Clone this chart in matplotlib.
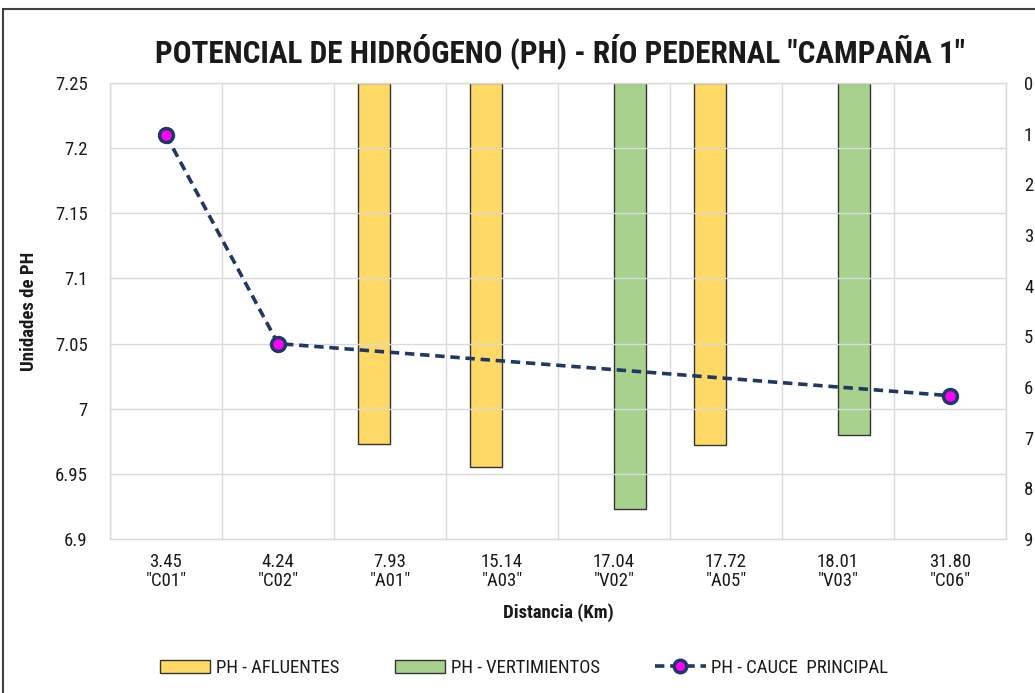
import numpy as np
import matplotlib
matplotlib.use("Agg")
import matplotlib.pyplot as plt
from matplotlib import font_manager
from matplotlib.patches import Rectangle, Patch
from matplotlib.lines import Line2D

# ---- data ----
distances = ["3.45", "4.24", "7.93", "15.14", "17.04", "17.72", "18.01", "31.80"]
stations = ["C01", "C02", "A01", "A03", "V02", "A05", "V03", "C06"]
ph_cauce = [7.21, 7.05, np.nan, np.nan, np.nan, np.nan, np.nan, 7.01]
ph_afluentes = [np.nan, np.nan, 7.12, 7.58, np.nan, 7.15, np.nan, np.nan]
ph_vertimientos = [np.nan, np.nan, np.nan, np.nan, 8.41, np.nan, 6.95, np.nan]
left_ticks = [6.9, 6.95, 7, 7.05, 7.1, 7.15, 7.2, 7.25]
left_ticklabels = ["6.9", "6.95", "7", "7.05", "7.1", "7.15", "7.2", "7.25"]
right_ticks = list(range(0, 10))

# ---- fonts ----
avail = {f.name for f in font_manager.fontManager.ttflist}
fam = None
for cand in ["Liberation Sans Narrow", "Arial Narrow", "Roboto Condensed", "Liberation Sans"]:
    if cand in avail:
        fam = cand
        break
plt.rcParams['font.family'] = [fam, 'DejaVu Sans'] if fam else ['DejaVu Sans']

txt = '#1a1a1a'
grid_c = '#d9d9d9'
fs = 13.5

fig = plt.figure(figsize=(10.35, 6.93), dpi=100)
ax = fig.add_axes([110/1035, 1-539/693, (1006-110)/1035, (539-83)/693])
ax2 = ax.twinx()
ax.set_zorder(ax2.get_zorder() + 1)
ax.patch.set_visible(False)

x = np.arange(len(stations))
bw = 1/3.5

# bars on secondary (inverted) axis
ax2.bar(x - bw/2, ph_afluentes, width=bw, color='#ffd966', edgecolor='#333333', linewidth=1.0)
ax2.bar(x + bw/2, ph_vertimientos, width=bw, color='#a9d18e', edgecolor='#333333', linewidth=1.0)
ax2.set_ylim(9, 0)
ax2.set_yticks(right_ticks)
ax2.set_yticklabels([str(t) for t in right_ticks], fontsize=fs, color=txt)
ax2.tick_params(axis='y', length=0, pad=13)
for s in ax2.spines.values():
    s.set_visible(False)

# line on primary axis
cauce = np.array(ph_cauce)
m = ~np.isnan(cauce)
ax.plot(x[m], cauce[m], linestyle=(0, (2.6, 1.6)), color='#1f3864', linewidth=2.6,
        marker='o', markersize=10, markerfacecolor='#ff00ff', markeredgecolor='#1f3864',
        markeredgewidth=2.5, zorder=5)

ax.set_xlim(-0.5, len(stations) - 0.5)
ax.set_ylim(6.9, 7.25)
ax.set_yticks(left_ticks)
ax.set_yticklabels(left_ticklabels, fontsize=fs, color=txt)
ax.set_xticks(x)
ax.set_xticklabels([f'{d}\n"{s}"' for d, s in zip(distances, stations)], fontsize=fs,
                   color=txt, linespacing=1.1)
ax.set_xticks(np.arange(-0.5, len(stations)), minor=True)
ax.tick_params(axis='x', which='major', length=0, pad=10)
ax.tick_params(axis='x', which='minor', length=0)
ax.tick_params(axis='y', length=0, pad=16)
ax.grid(axis='y', which='major', color=grid_c, linewidth=1)
ax.grid(axis='x', which='minor', color=grid_c, linewidth=1)
ax.set_axisbelow(True)
for s in ax.spines.values():
    s.set_color(grid_c)
    s.set_linewidth(1)

ax.set_ylabel('Unidades de PH', fontsize=13.5, fontweight='bold', color=txt, labelpad=12)
ax.set_xlabel('Distancia (Km)', fontsize=13.5, fontweight='bold', color=txt, labelpad=9)

fig.text(560/1035, 1-52/693, 'POTENCIAL DE HIDRÓGENO (PH) - RÍO PEDERNAL "CAMPAÑA 1"',
         fontsize=22.5, fontweight='bold', color=txt, ha='center', va='center')

handles = [Patch(facecolor='#ffd966', edgecolor='#333333', linewidth=1.0),
           Patch(facecolor='#a9d18e', edgecolor='#333333', linewidth=1.0),
           Line2D([], [], linestyle=(0, (2.6, 1.6)), color='#1f3864', linewidth=2.6, marker='o',
                  markersize=9, markerfacecolor='#ff00ff', markeredgecolor='#1f3864',
                  markeredgewidth=2.5)]
labels = ['PH - AFLUENTES', 'PH - VERTIMIENTOS', 'PH - CAUCE  PRINCIPAL']
fig.legend(handles, labels, loc='center', bbox_to_anchor=(524/1035, 1-668/693), ncol=3,
           frameon=False, fontsize=13.5, handlelength=2.7, handleheight=0.75,
           handletextpad=0.3, columnspacing=2.95, labelcolor=txt)

# outer chart border
fig.patches.append(Rectangle((3/1035, -0.1), 1.2, 1.1 - 9/693, transform=fig.transFigure,
                             fill=False, edgecolor='#404040', linewidth=1.5, figure=fig))

fig.savefig('out.png', dpi=100)
